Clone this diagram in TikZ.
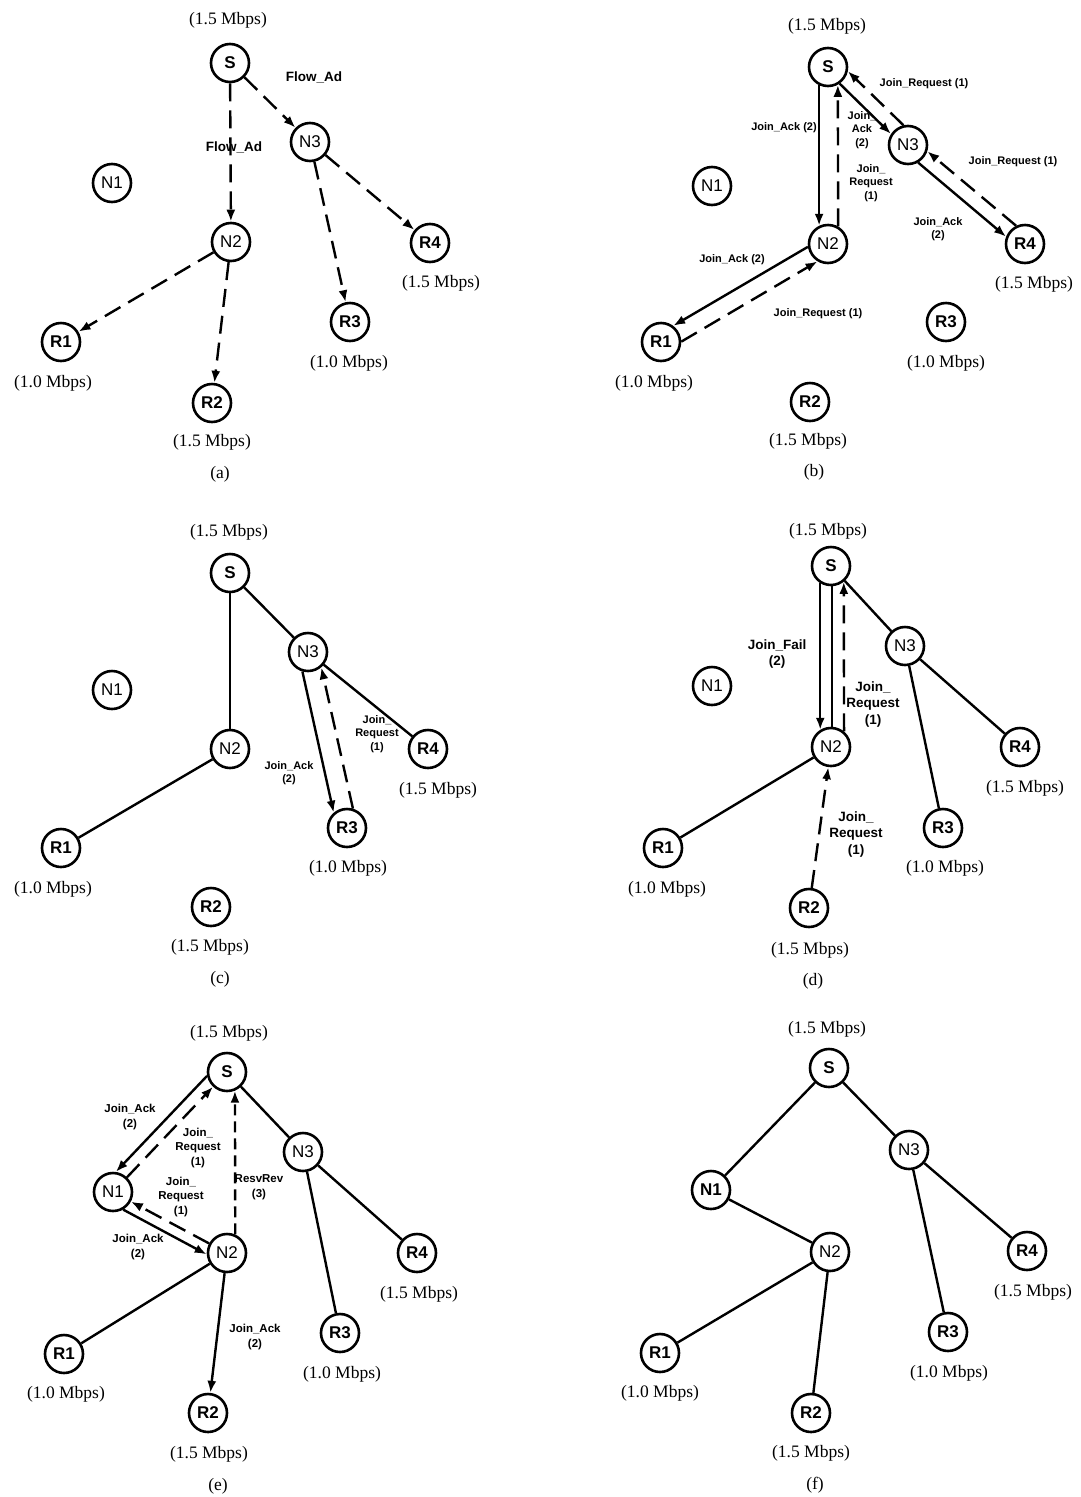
\documentclass[tikz,border=0pt]{standalone}
\usepackage{fontspec}
\setmainfont{Liberation Serif}
\newfontfamily\arialfont{Liberation Sans}
\usetikzlibrary{arrows.meta,calc}

% message drawn beside the link a--b, shifted d pt to the right of the travel direction
\newcommand{\keepright}[4]{%
  \draw[#1] let \p1=($(#3)-(#2)$), \n1={atan2(\y1,\x1)}, \n2={asin(#4/20.4)},
    \n3={\n1-\n2}, \n4={\n1+180+\n2} in (#2.\n3) -- (#3.\n4);%
}

\tikzset{
  nd/.style={circle, draw, line width=2.6pt, minimum size=38pt, inner sep=0pt,
    font=\arialfont\fontsize{17}{17}\selectfont},
  ndb/.style={nd, font=\arialfont\bfseries\fontsize{17}{17}\selectfont},
  rate/.style={inner sep=0pt, font=\fontsize{17.5}{17.5}\selectfont},
  link/.style={line width=2.4pt},
  msg/.style={line width=2.4pt, -{Latex[length=12pt,width=9pt]}},
  dmsg/.style={msg, dash pattern=on 18pt off 9pt},
  smsg/.style={msg, dash pattern=on 11pt off 6pt},
  lblA/.style={inner sep=0pt, align=center, font=\arialfont\bfseries\fontsize{13.5}{16}\selectfont},
  lblB/.style={inner sep=0pt, align=center, font=\arialfont\bfseries\fontsize{11}{13.5}\selectfont},
  lblD/.style={inner sep=0pt, align=center, font=\arialfont\bfseries\fontsize{13.5}{16.5}\selectfont},
  lblE/.style={inner sep=0pt, align=center, font=\arialfont\bfseries\fontsize{11.5}{14.5}\selectfont},
}

\begin{document}
\begin{tikzpicture}[x=1pt, y=-1pt]
\fill[white] (0,0) rectangle (1081,1497);
\useasboundingbox (0,0) rectangle (1081,1497);

%% ---------------- (a) Flow_Ad flooding ----------------
\node[ndb] (aS)  at (230,63)  {S};
\node[nd]  (aN1) at (112,183) {N1};
\node[nd]  (aN2) at (231,242) {N2};
\node[nd]  (aN3) at (310,142) {N3};
\node[ndb] (aR4) at (430,243) {R4};
\node[ndb] (aR3) at (350,322) {R3};
\node[ndb] (aR1) at (61,342)  {R1};
\node[ndb] (aR2) at (212,403) {R2};
\node[rate] (aSr)  at (228,20)  {(1.5 Mbps)};
\node[rate] (aR4r) at (441,283) {(1.5 Mbps)};
\node[rate] (aR3r) at (349,363) {(1.0 Mbps)};
\node[rate] (aR1r) at (53,383)  {(1.0 Mbps)};
\node[rate] (aR2r) at (212,442) {(1.5 Mbps)};
\node[rate] (acap) at (220,474) {(a)};
\draw[dmsg] (aS) -- (aN2);
\draw[dmsg] (aS) -- (aN3);
\draw[dmsg] (aN3) -- (aR3);
\draw[dmsg] (aN3) -- (aR4);
\draw[dmsg] (aN2) -- (aR1);
\draw[dmsg] (aN2) -- (aR2);
\node[lblA] (al1) at (314,77)  {Flow\_Ad};
\node[lblA] (al2) at (234,147) {Flow\_Ad};

%% ---------------- (b) R1 and R4 join ----------------
\node[ndb] (bS)  at (828,67)  {S};
\node[nd]  (bN1) at (712,186) {N1};
\node[nd]  (bN2) at (828,244) {N2};
\node[nd]  (bN3) at (908,145) {N3};
\node[ndb] (bR4) at (1025,244) {R4};
\node[ndb] (bR3) at (946,322) {R3};
\node[ndb] (bR1) at (661,342) {R1};
\node[ndb] (bR2) at (810,402) {R2};
\node[rate] (bSr)  at (827,26)  {(1.5 Mbps)};
\node[rate] (bR4r) at (1034,284) {(1.5 Mbps)};
\node[rate] (bR3r) at (946,363) {(1.0 Mbps)};
\node[rate] (bR1r) at (654,383) {(1.0 Mbps)};
\node[rate] (bR2r) at (808,441) {(1.5 Mbps)};
\node[rate] (bcap) at (814,472) {(b)};
\keepright{msg}{bS}{bN2}{9}
\keepright{dmsg}{bN2}{bS}{10}
\keepright{msg}{bS}{bN3}{4}
\keepright{dmsg}{bN3}{bS}{11}
\keepright{msg}{bN3}{bR4}{7}
\keepright{dmsg}{bR4}{bN3}{8}
\keepright{msg}{bN2}{bR1}{8}
\keepright{dmsg}{bR1}{bN2}{10}
\node[lblB] (bl1) at (784,128) {Join\_Ack (2)};
\node[lblB] (bl2) at (871,183) {Join\_\\Request\\(1)};
\node[lblB] (bl3) at (862,130) {Join\_\\Ack\\(2)};
\node[lblB] (bl4) at (924,84)  {Join\_Request (1)};
\node[lblB] (bl5) at (1013,162) {Join\_Request (1)};
\node[lblB] (bl6) at (938,229) {Join\_Ack\\(2)};
\node[lblB] (bl7) at (732,260) {Join\_Ack (2)};
\node[lblB] (bl8) at (818,314) {Join\_Request (1)};

%% ---------------- (c) R3 joins ----------------
\node[ndb] (cS)  at (230,573) {S};
\node[nd]  (cN1) at (112,690) {N1};
\node[nd]  (cN2) at (230,749) {N2};
\node[nd]  (cN3) at (308,652) {N3};
\node[ndb] (cR4) at (428,749) {R4};
\node[ndb] (cR3) at (347,828) {R3};
\node[ndb] (cR1) at (61,848)  {R1};
\node[ndb] (cR2) at (211,907) {R2};
\node[rate] (cSr)  at (229,532) {(1.5 Mbps)};
\node[rate] (cR4r) at (438,790) {(1.5 Mbps)};
\node[rate] (cR3r) at (348,868) {(1.0 Mbps)};
\node[rate] (cR1r) at (53,889)  {(1.0 Mbps)};
\node[rate] (cR2r) at (210,947) {(1.5 Mbps)};
\node[rate] (ccap) at (220,979) {(c)};
\draw[link] (cS) -- (cN2);
\draw[link] (cS) -- (cN3);
\draw[link] (cN3) -- (cR4);
\draw[link] (cN2) -- (cR1);
\keepright{msg}{cN3}{cR3}{10}
\keepright{dmsg}{cR3}{cN3}{10}
\node[lblB] (cl1) at (289,773) {Join\_Ack\\(2)};
\node[lblB] (cl2) at (377,734) {Join\_\\Request\\(1)};

%% ---------------- (d) R2 join fails ----------------
\node[ndb] (dS)  at (831,566) {S};
\node[nd]  (dN1) at (712,686) {N1};
\node[nd]  (dN2) at (831,747) {N2};
\node[nd]  (dN3) at (905,646) {N3};
\node[ndb] (dR4) at (1020,747) {R4};
\node[ndb] (dR3) at (943,828) {R3};
\node[ndb] (dR1) at (663,848) {R1};
\node[ndb] (dR2) at (809,908) {R2};
\node[rate] (dSr)  at (828,531) {(1.5 Mbps)};
\node[rate] (dR4r) at (1025,788) {(1.5 Mbps)};
\node[rate] (dR3r) at (945,868) {(1.0 Mbps)};
\node[rate] (dR1r) at (667,889) {(1.0 Mbps)};
\node[rate] (dR2r) at (810,950) {(1.5 Mbps)};
\node[rate] (dcap) at (813,981) {(d)};
\draw[link] (dS) -- (dN3);
\draw[link] (dN3) -- (dR4);
\draw[link] (dN3) -- (dR3);
\draw[link] (dN2) -- (dR1);
\keepright{link}{dS}{dN2}{-1}
\keepright{msg}{dS}{dN2}{11}
\keepright{dmsg}{dN2}{dS}{13}
\draw[dmsg] (dR2) -- (dN2);
\node[lblD] (dl1) at (777,654) {Join\_Fail\\(2)};
\node[lblD] (dl2) at (873,704) {Join\_\\Request\\(1)};
\node[lblD] (dl3) at (856,834) {Join\_\\Request\\(1)};

%% ---------------- (e) R2 joins through N1 ----------------
\node[ndb] (eS)  at (227,1072) {S};
\node[nd]  (eN1) at (113,1192) {N1};
\node[nd]  (eN2) at (227,1253) {N2};
\node[nd]  (eN3) at (303,1152) {N3};
\node[ndb] (eR4) at (417,1253) {R4};
\node[ndb] (eR3) at (340,1333) {R3};
\node[ndb] (eR1) at (64,1354)  {R1};
\node[ndb] (eR2) at (208,1413) {R2};
\node[rate] (eSr)  at (229,1033) {(1.5 Mbps)};
\node[rate] (eR4r) at (419,1294) {(1.5 Mbps)};
\node[rate] (eR3r) at (342,1374) {(1.0 Mbps)};
\node[rate] (eR1r) at (66,1394)  {(1.0 Mbps)};
\node[rate] (eR2r) at (209,1454) {(1.5 Mbps)};
\node[rate] (ecap) at (218,1486) {(e)};
\draw[link] (eS) -- (eN3);
\draw[link] (eN3) -- (eR4);
\draw[link] (eN3) -- (eR3);
\draw[link] (eN2) -- (eR1);
\draw[msg] (eN2) -- (eR2);
\keepright{msg}{eS}{eN1}{12}
\draw[dmsg] (eN1) -- (eS);
\keepright{msg}{eN1}{eN2}{11}
\draw[dmsg] (eN2) -- (eN1);
\keepright{smsg}{eN2}{eS}{8}
\node[lblE] (el1) at (130,1117) {Join\_Ack\\(2)};
\node[lblE] (el2) at (198,1148) {Join\_\\Request\\(1)};
\node[lblE] (el3) at (181,1197) {Join\_\\Request\\(1)};
\node[lblE] (el4) at (259,1187) {ResvRev\\(3)};
\node[lblE] (el5) at (138,1247) {Join\_Ack\\(2)};
\node[lblE] (el6) at (255,1337) {Join\_Ack\\(2)};

%% ---------------- (f) final tree ----------------
\node[ndb] (fS)  at (829,1068) {S};
\node[ndb] (fN1) at (711,1190) {N1};
\node[nd]  (fN2) at (830,1252) {N2};
\node[nd]  (fN3) at (909,1150) {N3};
\node[ndb] (fR4) at (1027,1251) {R4};
\node[ndb] (fR3) at (948,1332) {R3};
\node[ndb] (fR1) at (660,1353) {R1};
\node[ndb] (fR2) at (811,1413) {R2};
\node[rate] (fSr)  at (827,1029) {(1.5 Mbps)};
\node[rate] (fR4r) at (1033,1292) {(1.5 Mbps)};
\node[rate] (fR3r) at (949,1373) {(1.0 Mbps)};
\node[rate] (fR1r) at (660,1393) {(1.0 Mbps)};
\node[rate] (fR2r) at (811,1453) {(1.5 Mbps)};
\node[rate] (fcap) at (815,1485) {(f)};
\draw[link] (fS) -- (fN1);
\draw[link] (fN1) -- (fN2);
\draw[link] (fN2) -- (fR1);
\draw[link] (fN2) -- (fR2);
\draw[link] (fS) -- (fN3);
\draw[link] (fN3) -- (fR3);
\draw[link] (fN3) -- (fR4);
\end{tikzpicture}
\end{document}
